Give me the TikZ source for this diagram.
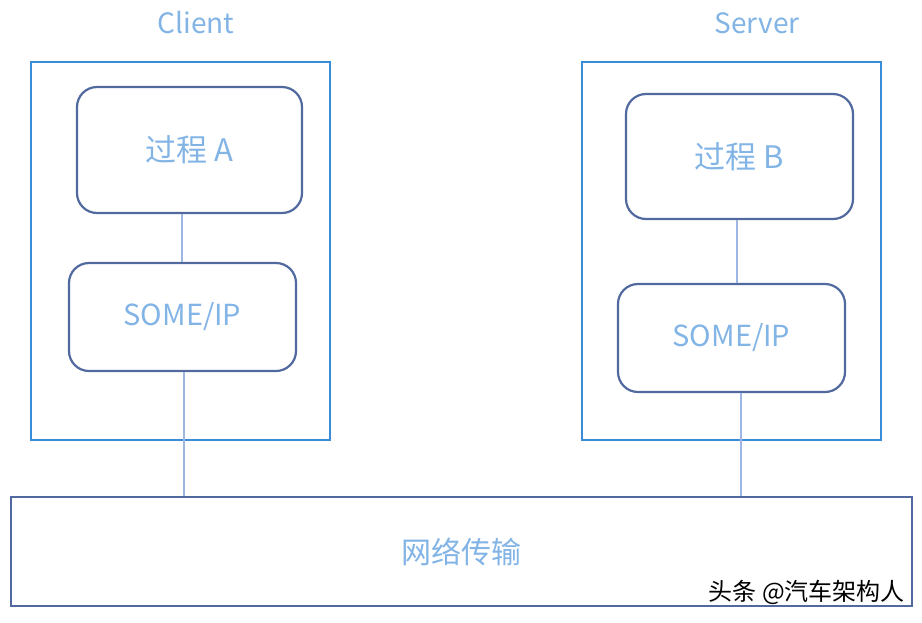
\documentclass[tikz,border=0pt]{standalone}
\usepackage{fontspec}
\setmainfont{Noto Sans CJK SC}
\definecolor{outerblue}{HTML}{3A8CD6}
\definecolor{innerblue}{HTML}{51699F}
\definecolor{linkblue}{HTML}{9DB6E4}
\definecolor{txtblue}{HTML}{82B4E6}
\begin{document}
\begin{tikzpicture}[x=1pt,y=-1pt,
  host/.style={draw=outerblue,line width=2.2pt,inner sep=0pt},
  proc/.style={draw=innerblue,line width=2.2pt,rounded corners=20pt,inner sep=0pt,
    text=txtblue,font=\fontsize{29}{34}\selectfont},
  netbox/.style={draw=innerblue,line width=2.2pt,inner sep=0pt,text=txtblue,
    font=\fontsize{30}{34}\selectfont},
  title/.style={text=txtblue,font=\fontsize{28}{32}\selectfont,inner sep=0pt},
  link/.style={draw=linkblue,line width=1.3pt},
  wmark/.style={font=\fontsize{24}{28}\selectfont,inner sep=0pt,anchor=east}]
\useasboundingbox (0,0) rectangle (922,622);
% hosts
\node[host,minimum width=299pt,minimum height=378pt] (client) at (180.5,251) {};
\node[host,minimum width=299pt,minimum height=378pt] (server) at (731.5,251) {};
\node[title] (clientlbl) at (196,23) {Client};
\node[title] (serverlbl) at (757,23) {Server};
% process boxes
\node[proc,minimum width=225pt,minimum height=126pt,font=\fontsize{31}{36}\selectfont] (pa) at (189.5,150) {过程 A};
\node[proc,minimum width=227pt,minimum height=108pt] (sa) at (182.5,317) {SOME/IP};
\node[proc,minimum width=227pt,minimum height=125pt,font=\fontsize{31}{36}\selectfont] (pb) at (739.5,156.5) {过程 B};
\node[proc,minimum width=227pt,minimum height=108pt] (sb) at (731.5,338) {SOME/IP};
% network
\node[netbox,minimum width=901pt,minimum height=109pt] (net) at (461.5,551.5) {网络传输};
\node[wmark] (wm) at (905,592) {头条 @汽车架构人};
% links
\coordinate (c1) at (182,0);
\coordinate (c2) at (184,0);
\coordinate (c3) at (737,0);
\coordinate (c4) at (741,0);
\draw[link] (pa.south -| c1) -- (sa.north -| c1);
\draw[link] (sa.south -| c2) -- (net.north -| c2);
\draw[link] (pb.south -| c3) -- (sb.north -| c3);
\draw[link] (sb.south -| c4) -- (net.north -| c4);
\end{tikzpicture}
\end{document}
